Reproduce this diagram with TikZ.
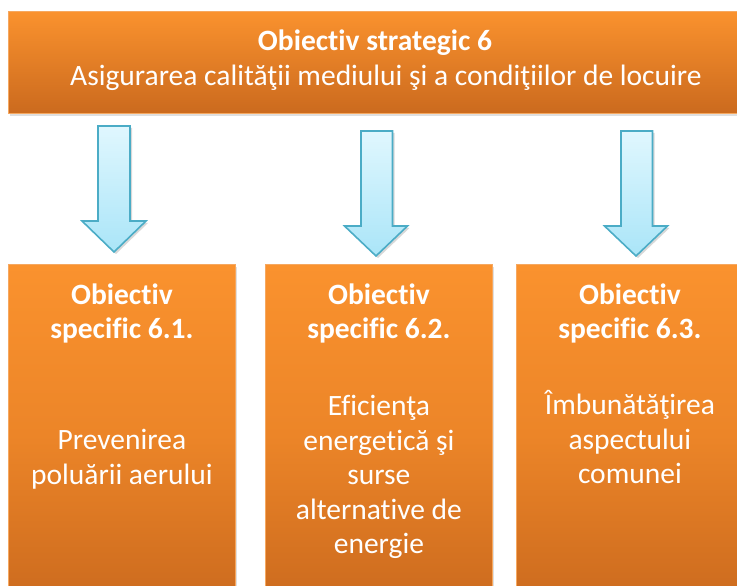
\documentclass[tikz,border=0pt]{standalone}
\usepackage{fontspec}
\setmainfont{Carlito}[Ligatures={NoCommon}]
\usepackage{xcolor}
\usetikzlibrary{positioning,calc,shadows}
\definecolor{objorange}{RGB}{250,146,46}
\definecolor{objmid}{RGB}{236,133,40}
\definecolor{objdark}{RGB}{203,106,30}
\definecolor{objedge}{RGB}{246,168,96}
\definecolor{arrowlight}{RGB}{224,247,254}
\definecolor{arrowblue}{RGB}{170,229,248}
\definecolor{arrowline}{RGB}{75,172,198}

\begin{document}
\begin{tikzpicture}[x=1pt,y=1pt,
    objbox/.style={draw=objedge, line width=0.8pt, top color=objorange, bottom color=objdark,
      drop shadow={opacity=0.25, shadow xshift=1.5pt, shadow yshift=-3pt}},
    subbox/.style={objbox, middle color=objmid, minimum width=227pt, minimum height=342pt, anchor=north west},
    boxtext/.style={text=white, align=center, font=\fontsize{29.5}{34.5}\selectfont},
    titletext/.style={boxtext, font=\fontsize{29.5}{34.5}\selectfont\bfseries},
    downarrow/.style={draw=arrowline, line width=1.6pt, line join=miter, top color=arrowlight, bottom color=arrowblue,
      drop shadow={opacity=0.3, shadow xshift=2pt, shadow yshift=-2pt}}]
  \useasboundingbox (0,0) rectangle (737,586);
  \fill[white] (0,0) rectangle (737,586);

  % Strategic objective
  \node[objbox, minimum width=734pt, minimum height=102pt, anchor=north west] (strat) at (8,575) {};
  \node[boxtext] (strattxt) at (375,526) {\textbf{Obiectiv strategic 6}\\\hspace*{22pt}Asigurarea calităţii mediului şi a condiţiilor de locuire};

  % Specific objectives
  \node[subbox] (spec1) at (8,322) {};
  \node[subbox] (spec2) at (265,322) {};
  \node[subbox] (spec3) at (516,322) {};

  \node[titletext, below=16pt of spec1.north] (title1) {Obiectiv\\specific 6.1.};
  \node[titletext, below=16pt of spec2.north] (title2) {Obiectiv\\specific 6.2.};
  \node[titletext, below=16pt of spec3.north] (title3) {Obiectiv\\specific 6.3.};

  \node[boxtext, anchor=north] (body1) at ($(spec1.north)+(0,-162)$) {Prevenirea\\poluării aerului};
  \node[boxtext, anchor=north] (body2) at ($(spec2.north)+(0,-128)$) {Eficienţa\\energetică şi\\surse\\alternative de\\energie};
  \node[boxtext, anchor=north] (body3) at ($(spec3.north)+(0,-123)$) {Îmbunătăţirea\\aspectului\\comunei};

  % Block arrows
  \coordinate (a1) at (114,460);
  \coordinate (a2) at (376,455);
  \coordinate (a3) at (636,455);
  \draw[downarrow] (a1) ++(-16,0) -- ++(0,-95) -- ++(-16,0) -- (114,334) -- ++(32,31) -- ++(-16,0) -- ++(0,95) -- cycle;
  \draw[downarrow] (a2) ++(-15,0) -- ++(0,-95) -- ++(-16.5,0) -- (376,330) -- ++(31.5,30) -- ++(-15,0) -- ++(0,95) -- cycle;
  \draw[downarrow] (a3) ++(-15,0) -- ++(0,-95) -- ++(-16.5,0) -- (636,330) -- ++(31.5,30) -- ++(-15,0) -- ++(0,95) -- cycle;
\end{tikzpicture}
\end{document}
